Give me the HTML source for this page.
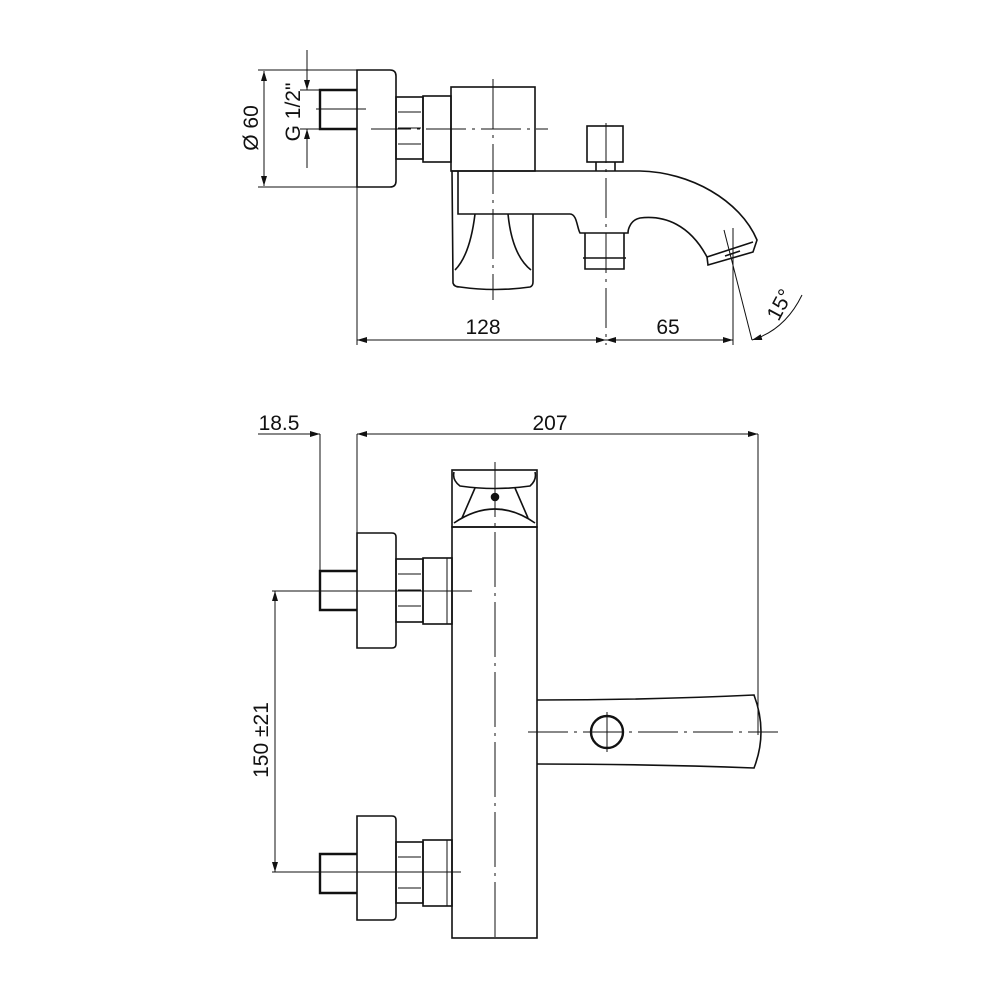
<!DOCTYPE html>
<html><head><meta charset="utf-8"><style>
html,body{margin:0;padding:0;background:#fff;}
svg{display:block}
text{font-family:"Liberation Sans",sans-serif;font-size:21px;fill:#111}
</style></head><body>
<svg width="1000" height="1000" viewBox="0 0 1000 1000" xmlns="http://www.w3.org/2000/svg">
<defs>
<marker id="a" viewBox="0 0 10 6" refX="10" refY="3" markerWidth="10" markerHeight="6" orient="auto-start-reverse" markerUnits="userSpaceOnUse"><path d="M0,0 L10,3 L0,6 z" fill="#111"/></marker>
</defs>
<g fill="none" stroke="#111" stroke-width="1.6">
<!-- TOP VIEW -->
<!-- escutcheon -->
<path d="M357,70 H390 Q396,70 396,76 V181 Q396,187 390,187 H357 Z"/>
<!-- pipe -->
<path d="M357,90 H320 V129 H357" stroke-width="2.4"/>
<!-- nut -->
<rect x="396" y="97" width="27" height="62"/>
<path d="M398,112 H421 M398,128 H421 M398,144 H421" stroke-width="1"/>
<!-- flange -->
<rect x="423" y="96" width="28" height="66"/>
<!-- body block -->
<rect x="451" y="87" width="84" height="84"/>
<!-- diverter -->
<rect x="587" y="126" width="36" height="36"/>
<path d="M596,162 V171 M615,162 V171"/>
<!-- spout -->
<path d="M452,171 H640 C690,172 740,200 757,240 L753,252 L708,265 L707,257 C690,225 665,215 640,218 C630,220 628,230 628,233 H580 C577,228 577,214 570,214 H458 V171"/>
<path d="M707,257 L753,242"/>
<path d="M585,233 V260 M624,233 V260 M583,258 H626 M585,258 V269 H624 V258" />
<!-- handle below -->
<path d="M452,171 L453,283 Q454,287 460,287 Q495,292 530,287 Q533,286 533,282 V214"/>
<path d="M475,214 Q470,255 455,270 M508,214 Q512,255 531,270"/>
<!-- nozzle detail -->
<path d="M725,256 L740,251"/>
</g>
<g fill="none" stroke="#111" stroke-width="1">
<!-- centre lines top -->
<path d="M316,109 H366"/>
<path d="M371,129 H548" stroke-dasharray="40,6,3,6"/>
<path d="M493,79 V300" stroke-dasharray="50,6,3,6"/>
<path d="M606,123 V345" stroke-dasharray="40,6,3,6"/>
<!-- Ø60 dim -->
<path d="M258,70 H357 M258,187 H357"/>
<path d="M264,71 V186" marker-start="url(#a)" marker-end="url(#a)"/>
<!-- G1/2 dim -->
<path d="M300,90 H320 M300,129 H320"/>
<path d="M307,50 V90" marker-end="url(#a)"/>
<path d="M307,168 V129" marker-end="url(#a)"/>
<!-- bottom dims top view -->
<path d="M357,187 V345 M733,228 V345"/>
<path d="M357,340 H606" marker-start="url(#a)" marker-end="url(#a)"/>
<path d="M606,340 H733" marker-start="url(#a)" marker-end="url(#a)"/>
<path d="M724,230 L752,340"/>
<path d="M752,340 Q785,330 802,295" marker-start="url(#a)"/>
</g>
<text transform="translate(258,128) rotate(-90)" text-anchor="middle">Ø 60</text>
<text transform="translate(300,112) rotate(-90)" text-anchor="middle">G 1/2"</text>
<text x="483" y="334" text-anchor="middle">128</text>
<text x="668" y="334" text-anchor="middle">65</text>
<text transform="translate(786,308) rotate(-62)" text-anchor="middle">15°</text>

<!-- BOTTOM VIEW -->
<g fill="none" stroke="#111" stroke-width="1.6">
<rect x="452" y="527" width="85" height="411"/>
<!-- cap -->
<rect x="452" y="470" width="85" height="57"/>
<path d="M454,472 Q452,480 460,486 Q495,491 530,486 Q537,480 535,472"/>
<path d="M475,488 L462,518 M515,488 L528,518"/>
<path d="M454,523 Q495,495 535,523"/>
<circle cx="495" cy="497" r="3.5" fill="#111"/>
<!-- upper valve -->
<path d="M357,533 H392 Q396,533 396,537 V644 Q396,648 392,648 H357 Z"/>
<path d="M357,571 H320 V610 H357" stroke-width="2.4"/>
<rect x="396" y="559" width="27" height="63"/>
<path d="M398,574 H421 M398,590 H421 M398,606 H421" stroke-width="1"/>
<rect x="423" y="558" width="29" height="66"/>
<path d="M447,558 V624" stroke-width="1"/>
<!-- lower valve -->
<path d="M357,816 H392 Q396,816 396,820 V916 Q396,920 392,920 H357 Z"/>
<path d="M357,854 H320 V893 H357" stroke-width="2.4"/>
<rect x="396" y="842" width="27" height="61"/>
<path d="M398,857 H421 M398,872 H421 M398,888 H421" stroke-width="1"/>
<rect x="423" y="840" width="29" height="66"/>
<path d="M447,840 V906" stroke-width="1"/>
<!-- spout -->
<path d="M537,700 Q650,700 754,695 Q768,732 754,768 Q650,764 537,764"/>
<circle cx="607" cy="732" r="16" stroke-width="2.4"/>
</g>
<g fill="none" stroke="#111" stroke-width="1">
<path d="M495,462 V940" stroke-dasharray="55,6,3,6"/>
<path d="M272,591 H472 M272,872 H461"/>
<path d="M528,732 H778" stroke-dasharray="40,6,3,6"/>
<path d="M607,712 V752"/>
<path d="M275,591 V872" marker-start="url(#a)" marker-end="url(#a)"/>
<!-- top dims -->
<path d="M320,434 V571 M357,434 V533 M758,434 V735"/>
<path d="M258,434 H320" marker-end="url(#a)"/>
<path d="M357,434 H758" marker-start="url(#a)" marker-end="url(#a)"/>
</g>
<text x="279" y="430" text-anchor="middle">18.5</text>
<text x="550" y="430" text-anchor="middle">207</text>
<text transform="translate(268,740) rotate(-90)" text-anchor="middle">150 ±21</text>
</svg>
</body></html>
